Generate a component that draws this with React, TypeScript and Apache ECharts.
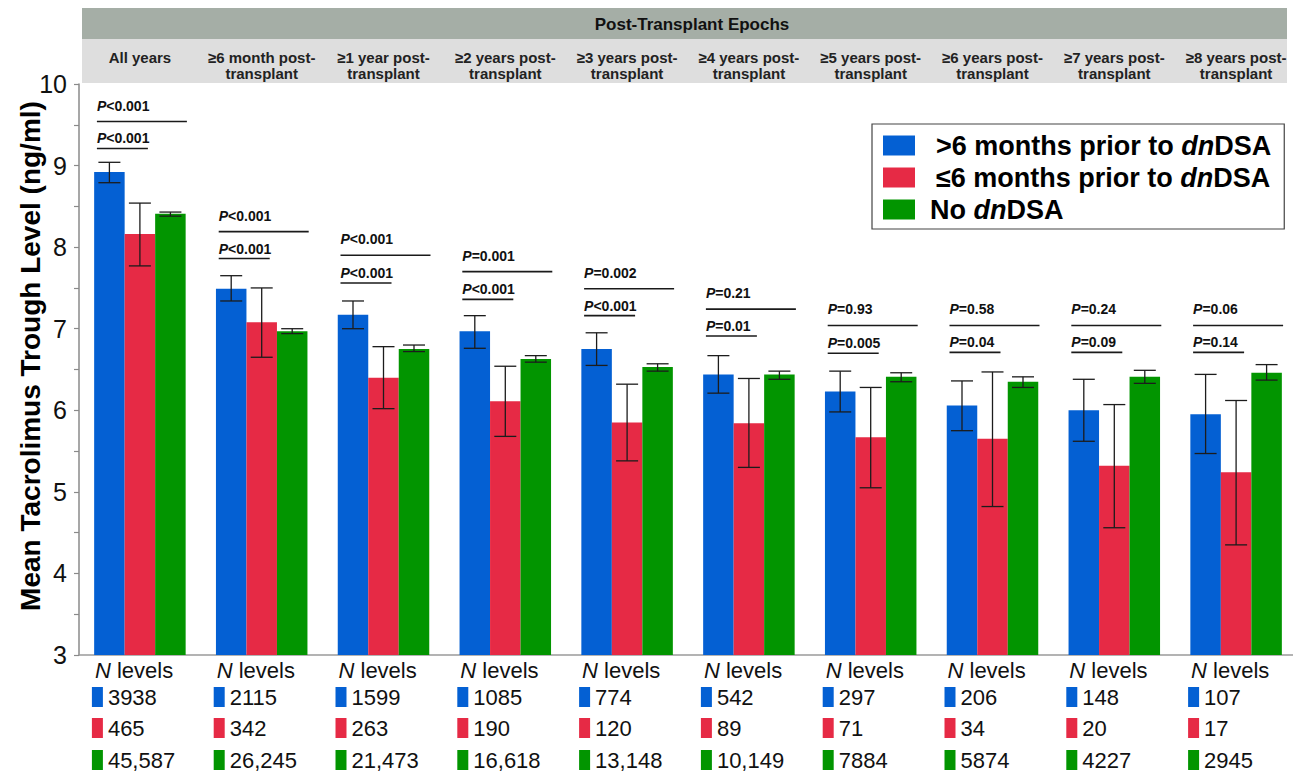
import React, { useEffect, useRef } from "react";
import * as echarts from "echarts";

const FONT = '"Liberation Sans", Arial, Helvetica, sans-serif';

const categories = [
  "All years",
  "≥6 month post-\ntransplant",
  "≥1 year post-\ntransplant",
  "≥2 years post-\ntransplant",
  "≥3 years post-\ntransplant",
  "≥4 years post-\ntransplant",
  "≥5 years post-\ntransplant",
  "≥6 years post-\ntransplant",
  "≥7 years post-\ntransplant",
  "≥8 years post-\ntransplant",
];

const seriesNames = [
  ">6 months prior to dnDSA",
  "≤6 months prior to dnDSA",
  "No dnDSA",
];
const colors = ["#0460d3", "#e62a45", "#029500"];

const blueMean = [8.92, 7.49, 7.17, 6.97, 6.75, 6.44, 6.23, 6.06, 6.0, 5.95];
const blueLow = [8.79, 7.34, 7.0, 6.76, 6.55, 6.21, 5.98, 5.75, 5.62, 5.47];
const blueHigh = [9.04, 7.65, 7.34, 7.16, 6.95, 6.67, 6.48, 6.36, 6.38, 6.44];

const redMean = [8.16, 7.08, 6.4, 6.11, 5.85, 5.84, 5.67, 5.65, 5.32, 5.24];
const redLow = [7.77, 6.65, 6.02, 5.68, 5.38, 5.3, 5.05, 4.82, 4.56, 4.35];
const redHigh = [8.54, 7.5, 6.78, 6.54, 6.32, 6.39, 6.28, 6.47, 6.07, 6.12];

const greenMean = [8.41, 6.97, 6.75, 6.63, 6.53, 6.44, 6.41, 6.35, 6.41, 6.46];
const greenLow = [8.38, 6.94, 6.72, 6.59, 6.48, 6.38, 6.35, 6.28, 6.33, 6.37];
const greenHigh = [8.43, 7.0, 6.8, 6.67, 6.57, 6.48, 6.46, 6.41, 6.49, 6.56];

const pOverall = ["<0.001", "<0.001", "<0.001", "=0.001", "=0.002", "=0.21", "=0.93", "=0.58", "=0.24", "=0.06"];
const pPair = ["<0.001", "<0.001", "<0.001", "<0.001", "<0.001", "=0.01", "=0.005", "=0.04", "=0.09", "=0.14"];
const pOverallLevel = [9.54, 8.19, 7.9, 7.7, 7.49, 7.24, 7.04, 7.04, 7.04, 7.04];
const pPairLevel = [9.21, 7.86, 7.56, 7.36, 7.16, 6.91, 6.7, 6.71, 6.71, 6.71];

const nBlue = ["3938", "2115", "1599", "1085", "774", "542", "297", "206", "148", "107"];
const nRed = ["465", "342", "263", "190", "120", "89", "71", "34", "20", "17"];
const nGreen = ["45,587", "26,245", "21,473", "16,618", "13,148", "10,149", "7884", "5874", "4227", "2945"];

const yTicks = { min: 3, max: 10, interval: 1 };
const yTitle = "Mean Tacrolimus Trough Level (ng/ml)";
const headerTitle = "Post-Transplant Epochs";

const BAR_W = 30.5;

export default function App() {
  const ref = useRef<HTMLDivElement>(null);
  useEffect(() => {
    if (!ref.current) return;
    const chart = echarts.init(ref.current, undefined, { renderer: "svg" });

    const pRich = {
      p: { fontStyle: "italic", fontWeight: "bold", fontSize: 14, fontFamily: FONT, fill: "#111", color: "#111" },
      v: { fontWeight: "bold", fontSize: 14, fontFamily: FONT, fill: "#111", color: "#111" },
    };

    const option: any = {
      animation: false,
      textStyle: { fontFamily: FONT },
      grid: { left: 79, top: 84, width: 1218, bottom: 118, containLabel: false, outerBoundsMode: "none" },
      graphic: [
        { type: "rect", z: -1, shape: { x: 82, y: 8, width: 1205, height: 31 }, style: { fill: "#a5aea6" } },
        { type: "rect", z: -1, shape: { x: 82, y: 39, width: 1205, height: 44 }, style: { fill: "#dedede" } },
        {
          type: "text",
          x: 692,
          y: 24,
          style: {
            text: headerTitle,
            font: `bold 17px ${FONT}`,
            fill: "#111",
            align: "center",
            verticalAlign: "middle",
            textAlign: "center",
            textVerticalAlign: "middle",
          },
        },
        {
          type: "text",
          x: 30,
          y: 356,
          rotation: Math.PI / 2,
          style: {
            text: yTitle,
            font: `bold 28px ${FONT}`,
            fill: "#000",
            align: "center",
            verticalAlign: "middle",
            textAlign: "center",
            textVerticalAlign: "middle",
          },
        },
      ],
      legend: {
        orient: "vertical",
        left: 872,
        top: 124,
        data: seriesNames,
        icon: "rect",
        itemWidth: 32,
        itemHeight: 20,
        itemGap: 5,
        padding: [8, 13, 6, 11],
        borderColor: "#444",
        borderWidth: 1.2,
        backgroundColor: "#fff",
        selectedMode: false,
        formatter: (name: string) => {
          const lead = name.startsWith("No") ? "" : "{sp|}";
          return lead + name.replace("dn", "{i|dn}");
        },
        textStyle: {
          fontSize: 27,
          lineHeight: 26,
          fontWeight: "bold",
          color: "#000",
          fontFamily: FONT,
          padding: [0, 0, 0, 10],
          rich: {
            i: { fontSize: 27, lineHeight: 26, fontWeight: "bold", fontStyle: "italic", color: "#000", fontFamily: FONT },
            sp: { width: 6, lineHeight: 26 },
          },
        },
      },
      xAxis: [
        {
          type: "category",
          data: categories,
          position: "bottom",
          axisLine: { show: true, lineStyle: { color: "#9a9a9a", width: 1.5 } },
          axisTick: { show: false },
          axisLabel: { show: false },
        },
        {
          type: "category",
          data: categories,
          position: "top",
          axisLine: { show: false },
          axisTick: { show: false },
          axisLabel: {
            interval: 0,
            margin: 35,
            verticalAlign: "top",
            fontSize: 15,
            lineHeight: 16,
            fontWeight: "bold",
            color: "#222",
            fontFamily: FONT,
          },
        },
      ],
      yAxis: {
        type: "value",
        min: yTicks.min,
        max: yTicks.max,
        interval: yTicks.interval,
        axisLine: { show: true, lineStyle: { color: "#8a8a8a", width: 1.5 } },
        axisTick: { show: true, length: 5, lineStyle: { color: "#8a8a8a", width: 1.2 } },
        minorTick: { show: true, splitNumber: 2, length: 5, lineStyle: { color: "#8a8a8a", width: 1.2 } },
        splitLine: { show: false },
        axisLabel: { fontSize: 25, color: "#111", margin: 12, fontFamily: FONT },
      },
      series: [
        { name: seriesNames[0], type: "bar", data: blueMean, barWidth: BAR_W, barGap: "0%", itemStyle: { color: colors[0] } },
        { name: seriesNames[1], type: "bar", data: redMean, barWidth: BAR_W, barGap: "0%", itemStyle: { color: colors[1] } },
        { name: seriesNames[2], type: "bar", data: greenMean, barWidth: BAR_W, barGap: "0%", itemStyle: { color: colors[2] } },
        {
          type: "custom",
          name: "errors",
          z: 10,
          silent: true,
          data: categories.map((_, i) => [i, blueLow[i], blueHigh[i], redLow[i], redHigh[i], greenLow[i], greenHigh[i]]),
          encode: { x: 0, y: [1, 2, 3, 4, 5, 6] },
          renderItem: (params: any, api: any) => {
            const i = api.value(0);
            const c = api.coord([i, 3]);
            const offs = [-BAR_W, 0, BAR_W];
            const children: any[] = [];
            const st = { stroke: "#1c1c1c", lineWidth: 1.3 };
            for (let k = 0; k < 3; k++) {
              const lo = api.coord([i, api.value(1 + 2 * k)])[1];
              const hi = api.coord([i, api.value(2 + 2 * k)])[1];
              const x = c[0] + offs[k];
              children.push({ type: "line", shape: { x1: x, y1: lo, x2: x, y2: hi }, style: st });
              children.push({ type: "line", shape: { x1: x - 11, y1: lo, x2: x + 11, y2: lo }, style: st });
              children.push({ type: "line", shape: { x1: x - 11, y1: hi, x2: x + 11, y2: hi }, style: st });
            }
            return { type: "group", children };
          },
        },
        {
          type: "custom",
          name: "pvalues",
          z: 11,
          silent: true,
          data: categories.map((_, i) => [i, pOverallLevel[i], pPairLevel[i]]),
          encode: { x: 0, y: [1, 2] },
          renderItem: (params: any, api: any) => {
            const idx = params.dataIndex;
            const i = api.value(0);
            const top = api.coord([i, api.value(1)]);
            const bot = api.coord([i, api.value(2)]);
            const x0 = top[0] - 43;
            const st = { stroke: "#1a1a1a", lineWidth: 1.6 };
            return {
              type: "group",
              children: [
                { type: "line", shape: { x1: x0, y1: top[1], x2: x0 + 90, y2: top[1] }, style: st },
                { type: "line", shape: { x1: x0, y1: bot[1], x2: x0 + 51, y2: bot[1] }, style: st },
                {
                  type: "text",
                  style: {
                    x: x0,
                    y: top[1] - 16,
                    text: `{p|P}{v|${pOverall[idx]}}`,
                    rich: pRich,
                    align: "left",
                    verticalAlign: "middle",
                  },
                },
                {
                  type: "text",
                  style: {
                    x: x0,
                    y: bot[1] - 10,
                    text: `{p|P}{v|${pPair[idx]}}`,
                    rich: pRich,
                    align: "left",
                    verticalAlign: "middle",
                  },
                },
              ],
            };
          },
        },
        {
          type: "custom",
          name: "ntable",
          z: 11,
          silent: true,
          clip: false,
          data: categories.map((_, i) => [i, yTicks.min]),
          encode: { x: 0, y: 1 },
          renderItem: (params: any, api: any) => {
            const idx = params.dataIndex;
            const p = api.coord([api.value(0), api.value(1)]);
            const x0 = p[0] - 45;
            const y0 = p[1];
            const rows = [nBlue[idx], nRed[idx], nGreen[idx]];
            const offsY = [42, 73, 105];
            const children: any[] = [
              {
                type: "text",
                style: {
                  x: x0,
                  y: y0 + 15,
                  text: "{i|N} levels",
                  font: `22px ${FONT}`,
                  fill: "#111",
                  rich: { i: { fontStyle: "italic", fontSize: 22, fontFamily: FONT, fill: "#111" } },
                  align: "left",
                  verticalAlign: "middle",
                },
              },
            ];
            for (let k = 0; k < 3; k++) {
              children.push({
                type: "rect",
                shape: { x: x0 - 3, y: y0 + offsY[k] - 10, width: 11, height: 20 },
                style: { fill: colors[k] },
              });
              children.push({
                type: "text",
                style: {
                  x: x0 + 13,
                  y: y0 + offsY[k],
                  text: rows[k],
                  font: `22px ${FONT}`,
                  fill: "#111",
                  align: "left",
                  verticalAlign: "middle",
                },
              });
            }
            return { type: "group", children };
          },
        },
      ],
    };

    chart.setOption(option);
    return () => chart.dispose();
  }, []);

  return (
    <div
      ref={ref}
      style={{ position: "fixed", left: 0, top: 0, width: 1293, height: 773, background: "#fff" }}
    />
  );
}
